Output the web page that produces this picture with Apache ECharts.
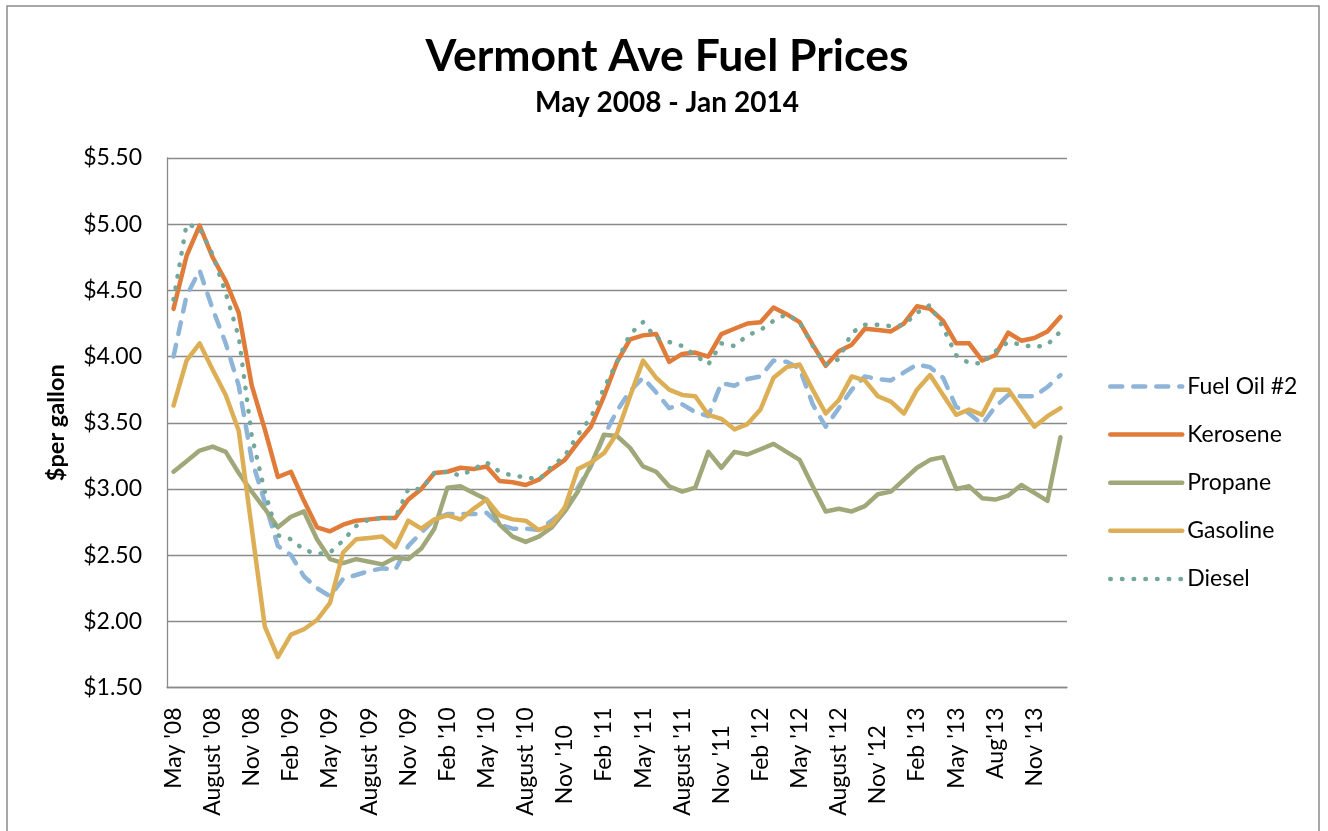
<!DOCTYPE html>
<html lang="en">
<head>
    <meta charset="UTF-8">
    <title>Vermont Ave Fuel Prices</title>
    <style>
        body {
            margin: 0;
            overflow: hidden;
            background: #fff;
        }

        #chart {
            width: 1328px;
            height: 831px;
        }
    </style>
</head>
<body>
    <div id="chart"></div>
    <script src="https://cdn.jsdelivr.net/npm/echarts@6/dist/echarts.min.js"></script>
    <script>
        // months May '08 .. Jan '14 (only every third one is labelled)
        var months = [
            "May '08", "Jun '08", "Jul '08", "August '08", "Sep '08", "Oct '08",
            "Nov '08", "Dec '08", "Jan '09", "Feb '09", "Mar '09", "Apr '09",
            "May '09", "Jun '09", "Jul '09", "August '09", "Sep '09", "Oct '09",
            "Nov '09", "Dec '09", "Jan '10", "Feb '10", "Mar '10", "Apr '10",
            "May '10", "Jun '10", "Jul '10", "August '10", "Sep '10", "Oct '10",
            "Nov '10   ", "Dec '10", "Jan '11", "Feb '11", "Mar '11", "Apr '11",
            "May '11", "Jun '11", "Jul '11", "August '11", "Sep '11", "Oct '11",
            "Nov '11   ", "Dec '11", "Jan '12", "Feb '12", "Mar '12", "Apr '12",
            "May '12", "Jun '12", "Jul '12", "August '12", "Sep '12", "Oct '12",
            "Nov '12   ", "Dec '12", "Jan '13", "Feb '13", "Mar '13", "Apr '13",
            "May '13", "Jun '13", "Jul '13", "Aug'13", "Sep '13", "Oct '13",
            "Nov '13", "Dec '13", "Jan '14"
        ];

        var fuelOil = [
            4.00, 4.46, 4.65, 4.36, 4.10, 3.78, 3.22, 2.90, 2.57, 2.50, 2.34, 2.25,
            2.19, 2.32, 2.35, 2.38, 2.40, 2.39, 2.57, 2.67, 2.77, 2.81, 2.81, 2.81,
            2.82, 2.73, 2.70, 2.70, 2.69, 2.76, 2.84, 3.01, 3.17, 3.40, 3.59, 3.74,
            3.84, 3.73, 3.61, 3.64, 3.58, 3.55, 3.80, 3.78, 3.83, 3.85, 3.97, 3.96,
            3.91, 3.64, 3.47, 3.61, 3.75, 3.85, 3.83, 3.82, 3.88, 3.94, 3.92, 3.84,
            3.62, 3.57, 3.49, 3.62, 3.71, 3.70, 3.70, 3.77, 3.86
        ];

        var kerosene = [
            4.36, 4.76, 4.99, 4.75, 4.57, 4.33, 3.78, 3.45, 3.09, 3.13, 2.91, 2.71,
            2.68, 2.73, 2.76, 2.77, 2.78, 2.78, 2.92, 3.00, 3.12, 3.13, 3.16, 3.15,
            3.17, 3.06, 3.05, 3.03, 3.07, 3.15, 3.22, 3.35, 3.47, 3.70, 3.96, 4.13,
            4.16, 4.17, 3.96, 4.02, 4.03, 4.00, 4.17, 4.21, 4.25, 4.26, 4.37, 4.32,
            4.26, 4.09, 3.93, 4.04, 4.09, 4.21, 4.20, 4.19, 4.25, 4.38, 4.36, 4.27,
            4.10, 4.10, 3.97, 4.01, 4.18, 4.12, 4.14, 4.19, 4.30
        ];

        var propane = [
            3.13, 3.21, 3.29, 3.32, 3.28, 3.12, 2.98, 2.85, 2.71, 2.79, 2.83, 2.62,
            2.47, 2.44, 2.47, 2.45, 2.43, 2.48, 2.47, 2.55, 2.70, 3.01, 3.02, 2.97,
            2.92, 2.73, 2.64, 2.60, 2.64, 2.71, 2.83, 2.98, 3.18, 3.41, 3.40, 3.31,
            3.17, 3.13, 3.02, 2.98, 3.01, 3.28, 3.16, 3.28, 3.26, 3.30, 3.34, 3.28,
            3.22, 3.02, 2.83, 2.85, 2.83, 2.87, 2.96, 2.98, 3.07, 3.16, 3.22, 3.24,
            3.00, 3.02, 2.93, 2.92, 2.95, 3.03, 2.97, 2.91, 3.39
        ];

        var gasoline = [
            3.63, 3.97, 4.10, 3.90, 3.71, 3.44, 2.70, 1.96, 1.73, 1.90, 1.94, 2.01,
            2.14, 2.52, 2.62, 2.63, 2.64, 2.56, 2.76, 2.70, 2.77, 2.80, 2.77, 2.85,
            2.92, 2.80, 2.77, 2.76, 2.69, 2.73, 2.86, 3.15, 3.20, 3.27, 3.42, 3.70,
            3.97, 3.84, 3.75, 3.71, 3.70, 3.56, 3.53, 3.45, 3.49, 3.60, 3.84, 3.92,
            3.94, 3.75, 3.57, 3.67, 3.85, 3.82, 3.70, 3.66, 3.57, 3.75, 3.86, 3.71,
            3.56, 3.60, 3.56, 3.75, 3.75, 3.61, 3.47, 3.55, 3.61
        ];

        var diesel = [
            4.43, 5.00, 4.97, 4.77, 4.48, 4.15, 3.40, 2.98, 2.65, 2.62, 2.54, 2.51,
            2.52, 2.61, 2.72, 2.77, 2.78, 2.78, 3.00, 3.00, 3.12, 3.13, 3.10, 3.15,
            3.20, 3.13, 3.10, 3.09, 3.07, 3.17, 3.25, 3.41, 3.54, 3.76, 3.96, 4.17,
            4.26, 4.14, 4.11, 4.08, 4.01, 3.94, 4.10, 4.08, 4.16, 4.20, 4.27, 4.32,
            4.26, 4.08, 3.94, 3.98, 4.18, 4.24, 4.24, 4.23, 4.24, 4.33, 4.39, 4.22,
            4.01, 3.95, 3.95, 4.04, 4.11, 4.09, 4.07, 4.09, 4.19
        ];

        var gridGray = '#8a8a8a';
        var font = 'Lato';

        function makeSeries(name, data, color, dash) {
            return {
                name: name,
                type: 'line',
                data: data,
                symbol: 'none',
                showSymbol: false,
                animation: false,
                lineStyle: {
                    color: color,
                    width: 4.5,
                    type: dash || 'solid',
                    cap: 'round',
                    join: 'round'
                },
                itemStyle: { color: color }
            };
        }

        var myChart = echarts.init(document.getElementById('chart'));

        var option = {
            animation: false,
            backgroundColor: '#fff',
            textStyle: { fontFamily: font },
            title: [{
                text: 'Vermont Ave Fuel Prices',
                left: 667,
                top: 34,
                padding: 0,
                textAlign: 'center',
                textStyle: { fontSize: 44.5, fontWeight: 'bold', color: '#000', fontFamily: font }
            }, {
                text: 'May 2008 - Jan 2014',
                left: 667,
                top: 89,
                padding: 0,
                textAlign: 'center',
                textStyle: { fontSize: 28, fontWeight: 'bold', color: '#000', fontFamily: font }
            }],
            legend: {
                orient: 'vertical',
                left: 1108,
                top: 375,
                padding: 0,
                itemWidth: 72,
                itemHeight: 20,
                itemGap: 25.1,
                itemStyle: { opacity: 0 },
                lineStyle: { width: 4.5 },
                textStyle: { fontSize: 23, color: '#000', fontFamily: font, lineHeight: 20 },
                data: ['Fuel Oil #2', 'Kerosene', 'Propane', 'Gasoline', 'Diesel']
            },
            grid: {
                left: 167,
                top: 158,
                right: 261,
                bottom: 143.5,
                containLabel: false,
                outerBoundsMode: 'none'
            },
            xAxis: {
                type: 'category',
                data: months,
                boundaryGap: true,
                axisLine: { lineStyle: { color: gridGray, width: 1.3 } },
                axisTick: { show: false },
                axisLabel: {
                    interval: 2,
                    rotate: 90,
                    margin: 20,
                    fontSize: 23,
                    color: '#000',
                    fontFamily: font
                },
                splitLine: { show: false }
            },
            yAxis: {
                type: 'value',
                min: 1.5,
                max: 5.5,
                interval: 0.5,
                name: '$per gallon',
                nameLocation: 'middle',
                nameRotate: 90,
                nameGap: 99,
                nameTextStyle: { fontSize: 23.5, fontWeight: 'bold', color: '#000', fontFamily: font },
                axisLine: { show: true, lineStyle: { color: gridGray, width: 1.3 } },
                axisTick: { show: false },
                axisLabel: {
                    margin: 25,
                    fontSize: 23,
                    color: '#000',
                    fontFamily: font,
                    formatter: function (v) {
                        return '$' + v.toFixed(2);
                    }
                },
                splitLine: { lineStyle: { color: gridGray, width: 1.3 } }
            },
            graphic: [{
                type: 'rect',
                silent: true,
                shape: { x: 7, y: 6, width: 1312, height: 840 },
                style: { fill: null, stroke: '#8c8c8c', lineWidth: 1.5 }
            }],
            series: [
                makeSeries('Fuel Oil #2', fuelOil, '#8eb4d7', [12, 11]),
                makeSeries('Kerosene', kerosene, '#e07b39'),
                makeSeries('Propane', propane, '#a0a87a'),
                makeSeries('Gasoline', gasoline, '#dcaf56'),
                makeSeries('Diesel', diesel, '#72a89a', [0.5, 11.2])
            ]
        };

        myChart.setOption(option);
    </script>
</body>
</html>
